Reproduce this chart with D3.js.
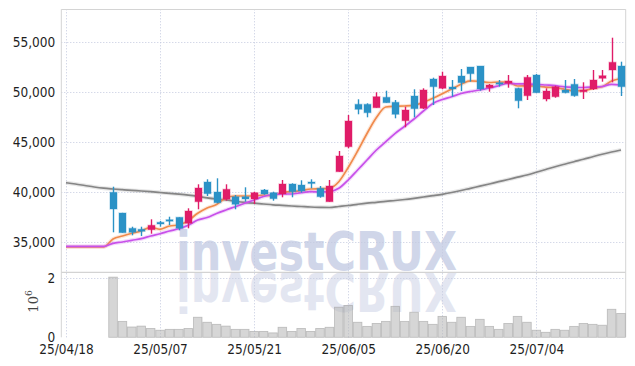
<!DOCTYPE html>
<html><head><meta charset="utf-8">
<script src="https://cdn.jsdelivr.net/npm/d3@7/dist/d3.min.js"></script>
<style>
body{margin:0;background:#fff}
svg{display:block}
.tk text{font-family:"Liberation Sans Narrow","Arial Narrow","DejaVu Sans Condensed",sans-serif;font-size:13.5px;fill:#1e1e1e}
</style>
</head><body><svg id="c" width="635" height="366"></svg>
<script>
const dates = ["2025-04-18","2025-04-21","2025-04-22","2025-04-23","2025-04-24","2025-04-25","2025-04-28","2025-04-29","2025-04-30","2025-05-02",
"2025-05-07","2025-05-08","2025-05-09","2025-05-12","2025-05-13","2025-05-14","2025-05-15","2025-05-16","2025-05-19","2025-05-20",
"2025-05-21","2025-05-22","2025-05-23","2025-05-26","2025-05-27","2025-05-28","2025-05-29","2025-05-30","2025-06-02","2025-06-04",
"2025-06-05","2025-06-09","2025-06-10","2025-06-11","2025-06-12","2025-06-13","2025-06-16","2025-06-17","2025-06-18","2025-06-19",
"2025-06-20","2025-06-23","2025-06-24","2025-06-25","2025-06-26","2025-06-27","2025-06-30","2025-07-01","2025-07-02","2025-07-03",
"2025-07-04","2025-07-07","2025-07-08","2025-07-09","2025-07-10","2025-07-11","2025-07-14","2025-07-15","2025-07-16","2025-07-17"];

const open  = [null,null,null,null,null,40000,37930,36400,36300,36260,37000,37260,37500,36900,39060,41030,40030,39300,39560,39560,39330,40230,39960,39830,40830,40730,41030,40400,39060,42060,44560,48800,48800,48460,49500,49000,47160,49630,48400,51330,50400,50530,51630,52530,52630,50460,50960,50900,50400,49660,51730,49330,49560,50230,50800,50060,50330,51400,52230,52630];
const high  = [null,null,null,null,null,40560,37950,36560,36560,37300,37130,37560,37500,38400,40800,41300,41400,40800,39730,40500,40060,40330,40060,41230,40900,41200,41300,40630,41230,44130,47730,49300,48900,50000,50160,49230,48560,50300,50400,51460,52060,51230,52330,52530,52630,50830,51230,51730,50460,51730,51830,50400,50660,51230,51330,51000,52230,52230,55460,53060];
const low   = [null,null,null,null,null,36000,35960,35700,35630,35860,36560,36730,36200,36400,38300,39630,38900,39160,38300,39060,38830,39760,39160,39500,39500,39960,40400,39460,39060,42060,44400,47800,47500,48460,48960,47400,46500,47500,48330,48730,50300,49560,50130,51060,50160,50060,50560,50460,48400,49230,49960,49100,49460,49900,49560,49330,50230,51060,51000,49630];
const close = [null,null,null,null,null,38330,35960,36000,36100,36700,36830,37200,36400,38130,40430,39860,38960,40300,38800,39330,39960,39830,39360,40830,40060,40130,40960,39560,40630,43630,47130,48300,47960,49560,48960,47800,48230,48360,50230,50560,51630,50330,50960,51860,50330,50730,50830,51130,49160,51500,49960,50130,50560,49960,49660,50230,51230,51660,53000,50560];
const volume = [0,0,0,0,0,2040000,540000,350000,380000,300000,240000,270000,270000,300000,680000,510000,440000,380000,270000,270000,200000,200000,150000,340000,200000,300000,200000,300000,340000,1020000,1080000,510000,370000,470000,540000,1050000,540000,850000,540000,440000,710000,510000,680000,370000,610000,370000,270000,470000,710000,510000,240000,170000,270000,240000,370000,470000,440000,410000,950000,810000];

const maShort = [34530,34530,34530,34530,34530,35330,35630,35900,36130,36500,36300,36630,36730,37180,37900,38430,38780,39430,39630,39630,39630,39730,39630,40000,40060,40160,40330,40360,40400,41060,42480,44130,45880,47480,48530,48600,48630,48710,49000,49400,49860,50330,50800,51150,51080,50980,51030,51010,50630,50650,50630,50510,50460,50300,50150,50160,50400,50560,51130,51380];
const maMid = [34600,34600,34600,34600,34600,34900,35030,35200,35360,35630,35860,36130,36360,36700,37230,37480,37880,38230,38560,38900,39230,39580,39780,39830,39830,39960,40060,40030,40060,40400,41230,42230,43230,44230,45060,45900,46600,47330,48130,48880,49280,49560,49880,50080,50230,50430,50660,50900,50850,50830,50800,50730,50660,50550,50500,50480,50530,50580,50800,50730];
const maLong = [40960,40830,40680,40530,40410,40330,40260,40190,40130,40060,39980,39900,39810,39710,39590,39450,39330,39230,39110,39000,38910,38830,38750,38690,38630,38580,38530,38500,38480,38580,38680,38800,38910,39000,39100,39180,39280,39400,39530,39660,39800,39980,40180,40400,40610,40830,41060,41280,41510,41730,42000,42280,42560,42810,43060,43300,43560,43810,44030,44230];

const priceTicks = [35000,40000,45000,50000,55000];
const volTicks = [0,2000000];
const dateTickEvery = 10;
const watermark = "investCRUX";

const svg = d3.select("#c");
const L = 61.3, R = 625.7, T = 9.3, M = 272.3, B = 337.3;

const x = d3.scalePoint().domain(dates).range([L, R]).padding(0.5);
const step = x.step();
const yP = d3.scaleLinear().domain([32000, 58300]).range([M, T]);
const yV = d3.scaleLinear().domain([0, 2203000]).range([B, M]);
const xTicks = dates.filter((d, i) => i % dateTickEvery === 0);
const fmtDate = d => d.slice(2).replace(/-/g, "/");

// watermark + reflection
const wm = svg.append("g");
[["", "#d0d6e9"], ["translate(0,543) scale(1,-1)", "#e3e6f1"]].forEach(([tr, col]) => {
  wm.append("text").attr("x", 176).attr("y", 270.3).text(watermark)
    .attr("transform", tr || null)
    .attr("font-family", "DejaVu Sans, sans-serif").attr("font-weight", "bold")
    .attr("font-size", 53).attr("textLength", 281).attr("lengthAdjust", "spacingAndGlyphs")
    .attr("fill", col);
});

// grid
const grid = svg.append("g").attr("stroke", "#c3c9df").attr("stroke-width", 1).attr("stroke-dasharray", "1,2");
grid.selectAll(".hp").data(priceTicks).join("line").attr("class", "hp")
  .attr("x1", L).attr("x2", R).attr("y1", d => Math.round(yP(d)) + 0.5).attr("y2", d => Math.round(yP(d)) + 0.5);
grid.selectAll(".hv").data(volTicks.filter(v => v > 0)).join("line").attr("class", "hv")
  .attr("x1", L).attr("x2", R).attr("y1", d => Math.round(yV(d)) + 0.5).attr("y2", d => Math.round(yV(d)) + 0.5);
grid.selectAll(".vx").data(xTicks).join("line").attr("class", "vx")
  .attr("x1", d => Math.round(x(d)) + 0.5).attr("x2", d => Math.round(x(d)) + 0.5).attr("y1", T).attr("y2", B);

// frame
const fr = svg.append("g").attr("stroke", "#d4d4d4").attr("stroke-width", 1).attr("fill", "none");
fr.append("line").attr("x1", L).attr("x2", R).attr("y1", T + 0.2).attr("y2", T + 0.2);
fr.append("line").attr("x1", L).attr("x2", R).attr("y1", M).attr("y2", M).attr("stroke", "#c8c8c8");
fr.append("line").attr("x1", L).attr("x2", L).attr("y1", T).attr("y2", B);
fr.append("line").attr("x1", R).attr("x2", R).attr("y1", T).attr("y2", B);

// volume bars
svg.append("g").selectAll("rect").data(dates.map((d, i) => ({d, v: volume[i]})).filter(o => o.v > 0)).join("rect")
  .attr("x", o => x(o.d) - step / 2 + 0.4).attr("width", step - 0.8)
  .attr("y", o => yV(o.v)).attr("height", o => B - yV(o.v))
  .attr("fill", "rgba(185,185,185,0.58)").attr("stroke", "rgba(150,150,150,0.55)").attr("stroke-width", 0.8);

// MA lines
const lineGen = arr => d3.line().x((d, i) => x(dates[i])).y(d => yP(d)).curve(d3.curveMonotoneX)(arr);
const maDefs = [[maLong, "#858585"], [maShort, "#f08a4c"], [maMid, "#c850ea"]];
const lg = svg.append("g").attr("fill", "none");
maDefs.forEach(([arr, col]) => {
  lg.append("path").attr("d", lineGen(arr)).attr("stroke", col).attr("stroke-width", 4).attr("stroke-opacity", 0.2).attr("stroke-linejoin", "round");
  lg.append("path").attr("d", lineGen(arr)).attr("stroke", col).attr("stroke-width", 1.7).attr("stroke-linejoin", "round");
});

// candles
const UP = "#e01c68", DN = "#2b92c6";
const cdata = dates.map((d, i) => ({d, o: open[i], h: high[i], l: low[i], c: close[i]})).filter(k => k.o != null);
const cg = svg.append("g").selectAll("g").data(cdata).join("g");
cg.append("line").attr("x1", k => Math.round(x(k.d)) + 0.5).attr("x2", k => Math.round(x(k.d)) + 0.5)
  .attr("y1", k => yP(k.h)).attr("y2", k => yP(k.l))
  .attr("stroke", k => k.c >= k.o ? UP : DN).attr("stroke-width", 1.4);
cg.append("rect").attr("x", k => Math.round(x(k.d)) + 0.5 - 3.5).attr("width", 7)
  .attr("y", k => yP(Math.max(k.o, k.c)))
  .attr("height", k => Math.max(1.5, Math.abs(yP(k.o) - yP(k.c))))
  .attr("fill", k => k.c >= k.o ? UP : DN)
  .attr("stroke", k => k.c >= k.o ? UP : DN).attr("stroke-opacity", 0.3).attr("stroke-width", 1.4);

// axes
const ay = svg.append("g").attr("class", "tk").attr("transform", `translate(${L},0)`)
  .call(d3.axisLeft(yP).tickValues(priceTicks).tickFormat(d3.format(",")).tickSize(0).tickPadding(6));
ay.select(".domain").remove();
const av = svg.append("g").attr("class", "tk").attr("transform", `translate(${L},0)`)
  .call(d3.axisLeft(yV).tickValues(volTicks).tickFormat(v => d3.format("d")(v / 1e6)).tickSize(0).tickPadding(6));
av.select(".domain").remove();
const ax = svg.append("g").attr("class", "tk").attr("transform", `translate(0,${B})`)
  .call(d3.axisBottom(x).tickValues(xTicks).tickFormat(fmtDate).tickSize(0).tickPadding(7));
ax.select(".domain").remove();

// volume unit label
const ul = svg.append("text").attr("transform", "translate(37.5,301.5) rotate(-90)")
  .attr("text-anchor", "middle").attr("font-family", "DejaVu Serif, serif").attr("font-size", 13).attr("fill", "#444");
ul.append("tspan").text("10");
ul.append("tspan").text("6").attr("font-size", 9).attr("dy", -6);
</script></body></html>
